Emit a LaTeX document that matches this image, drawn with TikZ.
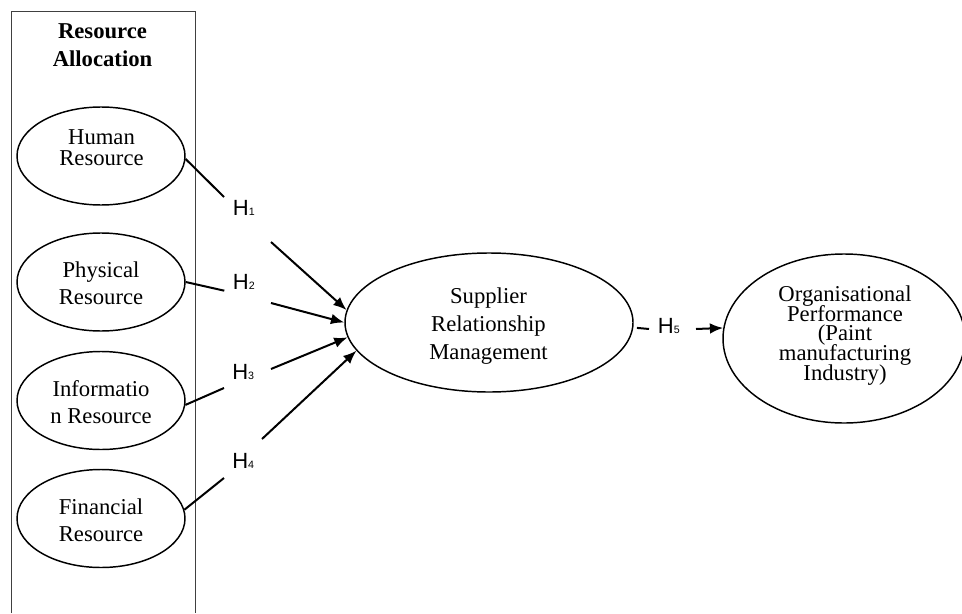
\documentclass[tikz,border=0pt]{standalone}
\usepackage{fontspec}
\setmainfont{Liberation Serif}
\newfontfamily\arialfont{Liberation Sans}
\usetikzlibrary{shapes.geometric,arrows.meta}
\newcommand\tightlines{\lineskiplimit=-100pt\lineskip=0pt\relax}
\begin{document}
\begin{tikzpicture}[x=0.75pt,y=-0.75pt,
  ell/.style={draw, ellipse, line width=1.1pt, inner sep=0pt},
  smallell/.style={ell, minimum width=126pt, minimum height=73.5pt},
  etxt/.style={align=center, anchor=base, inner sep=0pt},
  hlab/.style={anchor=base west, inner sep=0pt, font=\arialfont\fontsize{16.5}{16.5}\selectfont},
  conn/.style={line width=1.5pt},
  arr/.style={conn, -{Latex[length=10pt,width=8pt]}},
]
\useasboundingbox (0,0) rectangle (962,613);

% group box
\draw[line width=0.75pt, black!75] (11,613) -- (11,12) -- (195,12) -- (195,613);
\node[etxt, font=\bfseries\fontsize{17}{21}\selectfont\tightlines] (title) at (102.5,67) {Resource\\Allocation};

% ellipses
\node[smallell] (hr) at (101,156) {};
\node[smallell] (pr) at (101,282) {};
\node[smallell] (ir) at (101,400.5) {};
\node[smallell] (fr) at (101,518.5) {};
\node[ell, minimum width=216pt, minimum height=104.25pt] (srm) at (489,322.5) {};
\node[ell, minimum width=181.5pt, minimum height=126.75pt] (op) at (844,338.5) {};

% texts (anchored at the baseline of the last line)
\node[etxt, font=\fontsize{17}{15}\selectfont\tightlines] (thr) at (101.5,165) {Human\\Resource};
\node[etxt, font=\fontsize{17}{20.25}\selectfont\tightlines] (tpr) at (101,304) {Physical\\Resource};
\node[etxt, font=\fontsize{17}{20.25}\selectfont\tightlines] (tir) at (101,423) {Informatio\\n Resource};
\node[etxt, font=\fontsize{17}{20.25}\selectfont\tightlines] (tfr) at (101,541) {Financial\\Resource};
\node[etxt, font=\fontsize{17}{21}\selectfont\tightlines] (tsrm) at (488.5,359) {Supplier\\Relationship\\Management};
\node[etxt, font=\fontsize{17}{14.7}\selectfont\tightlines] (top) at (845,380) {Organisational\\Performance\\(Paint\\manufacturing\\Industry)};

% hypothesis labels
\node[hlab] (h1) at (232.7,215) {H{\fontsize{8}{8}\selectfont 1}};
\node[hlab] (h2) at (232.7,289.3) {H{\fontsize{8}{8}\selectfont 2}};
\node[hlab] (h3) at (232,379.3) {H{\fontsize{8}{8}\selectfont 3}};
\node[hlab] (h4) at (232,468.3) {H{\fontsize{8}{8}\selectfont 4}};
\node[hlab] (h5) at (657.7,333.3) {H{\fontsize{8}{8}\selectfont 5}};

% connector free ends
\coordinate (c1a) at (224,197);
\coordinate (c1b) at (271,242);
\coordinate (c2a) at (224.3,290.7);
\coordinate (c2b) at (271,303);
\coordinate (c3a) at (224,388);
\coordinate (c3b) at (271,369);
\coordinate (c4a) at (224,478);
\coordinate (c4b) at (262,439);
\coordinate (c5b) at (649,329);
\coordinate (c5c) at (696,329);

\draw[conn] (hr.-2) -- (c1a);
\draw[arr] (c1b) -- (srm.175.8);
\draw[conn] (pr.east) -- (c2a);
\draw[arr] (c2b) -- (srm.180);
\draw[conn] (ir.-3) -- (c3a);
\draw[arr] (c3b) -- (srm.186);
\draw[conn] (fr.6) -- (c4a);
\draw[arr] (c4b) -- (srm.192);
\draw[conn, shorten <=2.7pt] (srm.-2.6) -- (c5b);
\draw[arr] (c5c) -- (op.175.5);
\end{tikzpicture}
\end{document}
